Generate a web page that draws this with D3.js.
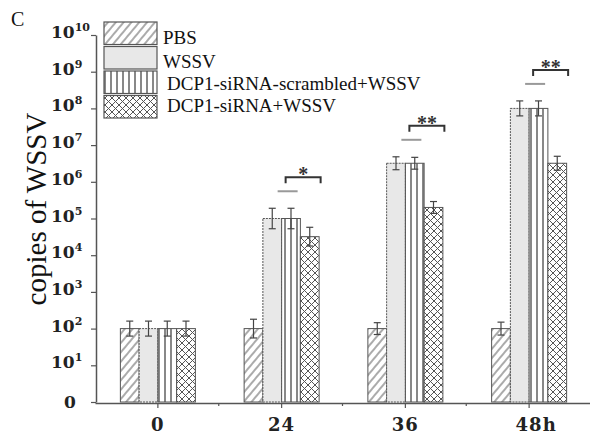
<!DOCTYPE html>
<meta charset="utf-8">
<script src="https://d3js.org/d3.v7.min.js"></script>
<style>
  body { margin: 0; background: #fff; }
</style>
<div id="chart"></div>
<script>

// data
const categories = ["0", "24", "36", "48"];
const seriesNames = ["PBS", "WSSV", "DCP1-siRNA-scrambled+WSSV", "DCP1-siRNA+WSSV"];
const pbsValues       = [100, 100, 100, 100];
const wssvValues      = [100, 1e5, 3.2e6, 1e8];
const scrambledValues = [100, 1e5, 3.2e6, 1e8];
const sirnaValues     = [100, 3.2e4, 2e5, 3.2e6];
// error bars as a multiplicative factor (log axis)
const pbsErr       = [1.6, 1.8, 1.45, 1.5];
const wssvErr      = [1.6, 1.9, 1.5, 1.6];
const scrambledErr = [1.6, 1.9, 1.45, 1.6];
const sirnaErr     = [1.6, 1.8, 1.45, 1.55];
const yTickValues = [1, 1e1, 1e2, 1e3, 1e4, 1e5, 1e6, 1e7, 1e8, 1e9, 1e10];
const yTickExps   = ["", "1", "2", "3", "4", "5", "6", "7", "8", "9", "10"];
const sigCats   = ["24", "36", "48"];
const sigLabels = ["*", "**", "**"];

const allValues = [pbsValues, wssvValues, scrambledValues, sirnaValues];
const allErr = [pbsErr, wssvErr, scrambledErr, sirnaErr];
const fills = ["url(#hatch)", "#e8e8e8", "url(#vstripe)", "url(#cross)"];

const W = 590, H = 438;
const svg = d3.select("#chart").append("svg")
  .attr("width", W).attr("height", H)
  .style("font-family", "'Liberation Serif', 'Times New Roman', serif");

// patterns
const defs = svg.append("defs");
const hatch = defs.append("pattern").attr("id", "hatch")
  .attr("patternUnits", "userSpaceOnUse").attr("width", 6).attr("height", 6)
  .attr("patternTransform", "rotate(40)");
hatch.append("rect").attr("width", 6).attr("height", 6).attr("fill", "#fff");
hatch.append("line").attr("x1", 1).attr("x2", 1).attr("y1", 0).attr("y2", 6)
  .attr("stroke", "#666").attr("stroke-width", 1.1);

const vs = defs.append("pattern").attr("id", "vstripe")
  .attr("patternUnits", "userSpaceOnUse").attr("width", 6).attr("height", 6);
vs.append("rect").attr("width", 6).attr("height", 6).attr("fill", "#fff");
vs.append("line").attr("x1", 3).attr("x2", 3).attr("y1", 0).attr("y2", 6)
  .attr("stroke", "#555").attr("stroke-width", 1.4);

const cr = defs.append("pattern").attr("id", "cross")
  .attr("patternUnits", "userSpaceOnUse").attr("width", 7).attr("height", 7);
cr.append("rect").attr("width", 7).attr("height", 7).attr("fill", "#fff");
cr.append("path").attr("d", "M0,0L7,7M7,0L0,7")
  .attr("stroke", "#555").attr("stroke-width", 1).attr("fill", "none");

// scales
const x = d3.scaleBand().domain(categories).range([95, 590]);
const groupW = 75;
const x1 = d3.scaleBand().domain(seriesNames).range([0, groupW]);
const y = d3.scaleLog().domain([1, 1e10]).range([402, 35]);
const cx = c => x(c) + x.bandwidth() / 2 + 1;

// y axis
const yAxis = svg.append("g").attr("transform", "translate(96,0)")
  .call(d3.axisLeft(y).tickValues(yTickValues).tickFormat("").tickSizeOuter(0).tickSizeInner(5));
yAxis.select(".domain").attr("stroke", "#555").attr("stroke-width", 1.5);
yAxis.selectAll(".tick line").attr("stroke", "#555").attr("stroke-width", 1.2);

const yl = svg.append("g").style("font-family", "'DejaVu Serif', serif")
  .style("font-weight", "bold").attr("fill", "#222");
yTickValues.forEach((v, i) => {
  if (i === 0) {
    yl.append("text").attr("x", 70).attr("y", y(v) + 6)
      .attr("text-anchor", "middle").style("font-size", "17px").text("0");
  } else {
    const t = yl.append("text").attr("x", 51).attr("y", y(v) + 3).style("font-size", "17px");
    t.append("tspan").text("10");
    t.append("tspan").attr("dy", -7).style("font-size", "11px").text(yTickExps[i]);
  }
});

// x axis
const xAxis = svg.append("g").attr("transform", "translate(0,403)")
  .call(d3.axisBottom(x).tickSizeOuter(0).tickSizeInner(5).tickFormat(""));
xAxis.select(".domain").attr("stroke", "#555").attr("stroke-width", 1.5);
xAxis.selectAll(".tick").attr("transform", d => "translate(" + cx(d) + ",0)");
xAxis.selectAll(".tick line").attr("stroke", "#555").attr("stroke-width", 1.2);
// minor ticks between categories
categories.slice(1).forEach(c => {
  svg.append("line").attr("x1", x(c)).attr("x2", x(c)).attr("y1", 403).attr("y2", 406)
    .attr("stroke", "#555").attr("stroke-width", 1.2);
});
const xl = svg.append("g").style("font-family", "'DejaVu Serif', serif")
  .style("font-weight", "bold").style("font-size", "18px").attr("fill", "#222");
categories.forEach((c, i) => {
  const t = xl.append("text").attr("y", 431).attr("x", cx(c)).attr("text-anchor", "middle")
    .style("letter-spacing", "1px").text(c);
  if (i === categories.length - 1) {
    const w = t.node().getComputedTextLength();
    t.attr("text-anchor", "start").attr("x", cx(c) - w / 2).text(c + "h");
  }
});

// bars
seriesNames.forEach((s, si) => {
  const g = svg.append("g");
  categories.forEach((c, ci) => {
    const v = allValues[si][ci];
    const bx = x(c) + (x.bandwidth() - groupW) / 2 + 1 + x1(s);
    g.append("rect")
      .attr("x", bx).attr("y", y(v))
      .attr("width", x1.bandwidth()).attr("height", y(1) - y(v))
      .attr("fill", fills[si])
      .attr("stroke", "#555").attr("stroke-width", 1)
      .attr("stroke-dasharray", si === 1 ? "2,1" : null);
    // error bar
    const f = allErr[si][ci];
    const ex = bx + x1.bandwidth() / 2;
    const yt = y(v * f), yb = y(v / f);
    g.append("line").attr("x1", ex).attr("x2", ex).attr("y1", yt).attr("y2", yb)
      .attr("stroke", "#444").attr("stroke-width", 1.2);
    [yt, yb].forEach(yy => g.append("line").attr("x1", ex - 3.5).attr("x2", ex + 3.5)
      .attr("y1", yy).attr("y2", yy).attr("stroke", "#444").attr("stroke-width", 1.2));
  });
});

// significance marks
sigCats.forEach((c, i) => {
  const ci = categories.indexOf(c);
  const top = y(Math.max(wssvValues[ci] * wssvErr[ci], scrambledValues[ci] * scrambledErr[ci]));
  const mid = cx(c);
  const gy = top - 17;
  svg.append("line").attr("x1", mid - 4).attr("x2", mid + 16).attr("y1", gy).attr("y2", gy)
    .attr("stroke", "#999").attr("stroke-width", 2);
  const by = gy - 14;
  svg.append("path")
    .attr("d", `M${mid + 4},${by + 6}V${by}H${mid + 39}V${by + 6}`)
    .attr("fill", "none").attr("stroke", "#333").attr("stroke-width", 2);
  svg.append("text").attr("x", mid + 21.5).attr("y", by + 4).attr("text-anchor", "middle")
    .style("font-size", "20px").style("font-weight", "bold").attr("fill", "#333")
    .text(sigLabels[i]);
});

// legend
const legY = [22, 46.5, 71, 95.5];
const legBase = [44, 68, 90, 112];
const legX = [163, 163, 167, 167];
seriesNames.forEach((s, i) => {
  svg.append("rect").attr("x", 104).attr("y", legY[i]).attr("width", 53).attr("height", 22.5)
    .attr("fill", fills[i]).attr("stroke", "#555").attr("stroke-width", 1.2);
  svg.append("text").attr("x", legX[i]).attr("y", legBase[i])
    .style("font-size", "19px").attr("fill", "#111").text(s);
});

// axis title and panel letter
svg.append("text").attr("transform", "translate(46,209) rotate(-90)")
  .attr("text-anchor", "middle").style("font-size", "29px").attr("fill", "#111")
  .text("copies of WSSV");
svg.append("text").attr("x", 11).attr("y", 26).style("font-size", "20px")
  .attr("fill", "#111").text("C");

</script>
